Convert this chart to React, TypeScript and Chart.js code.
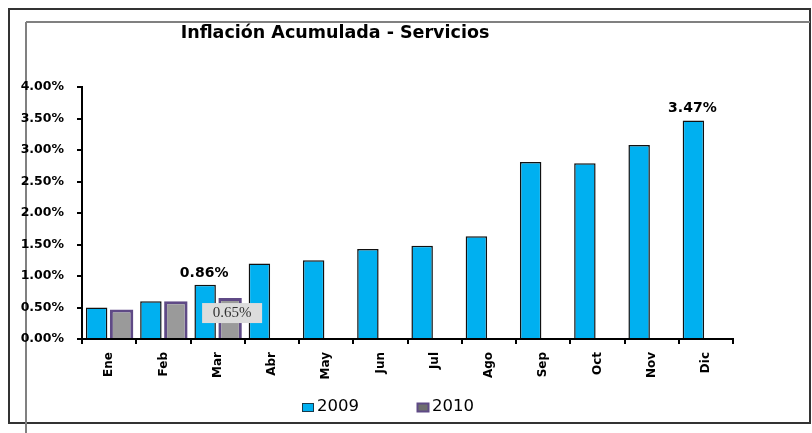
import React, { useEffect, useRef } from "react";
import { Chart, registerables } from "chart.js";

Chart.register(...registerables);

const categories = ["Ene", "Feb", "Mar", "Abr", "May", "Jun", "Jul", "Ago", "Sep", "Oct", "Nov", "Dic"];
const series2009 = [0.5, 0.6, 0.86, 1.2, 1.25, 1.43, 1.48, 1.63, 2.81, 2.79, 3.08, 3.47];
const series2010 = [0.47, 0.6, 0.65, null, null, null, null, null, null, null, null, null];
const seriesNames = ["2009", "2010"];
const titleText = "Inflación Acumulada - Servicios";
const yMin = 0;
const yMax = 4;
const yStep = 0.5;

const BLUE = "#00B0F0";
const PURPLE = "#5F4A86";
const GRAY = "#9a9a9a";

const decorPlugin = {
  id: "decor",
  beforeDraw(chart: any) {
    const ctx = chart.ctx;
    ctx.save();
    ctx.fillStyle = "#ffffff";
    ctx.fillRect(0, 0, chart.width, chart.height);
    ctx.strokeStyle = "#333333";
    ctx.lineWidth = 2;
    ctx.strokeRect(9, 9, 801, 414);
    ctx.strokeStyle = "#808080";
    ctx.beginPath();
    ctx.moveTo(26, 22);
    ctx.lineTo(810, 22);
    ctx.moveTo(26, 22);
    ctx.lineTo(26, 433);
    ctx.stroke();
    ctx.restore();
  },
  afterDraw(chart: any) {
    const ctx = chart.ctx;
    ctx.save();
    ctx.fillStyle = "#000";
    ctx.font = "bold 17.5px 'DejaVu Sans'";
    ctx.textAlign = "center";
    ctx.textBaseline = "middle";
    ctx.fillText(titleText, 335, 33);

    const meta0 = chart.getDatasetMeta(0);
    ctx.font = "bold 14px 'DejaVu Sans'";
    ctx.textBaseline = "alphabetic";
    [2, 11].forEach((i) => {
      const el = meta0.data[i];
      ctx.fillText(series2009[i].toFixed(2) + "%", el.x - 1, el.y - 8);
    });

    const meta1 = chart.getDatasetMeta(1);
    const el1 = meta1.data[2];
    const v = series2010[2] as number;
    const bx = el1.x - 28;
    const by = el1.y + 5;
    ctx.fillStyle = "#dcdcdc";
    ctx.fillRect(bx, by, 60, 20);
    ctx.fillStyle = "#333";
    ctx.font = "15px 'Liberation Serif'";
    ctx.textAlign = "center";
    ctx.textBaseline = "middle";
    ctx.fillText(v.toFixed(2) + "%", bx + 30, by + 10);

    ctx.font = "16.5px 'DejaVu Sans'";
    ctx.textAlign = "left";
    ctx.textBaseline = "middle";
    const items = [
      { x: 302, fill: BLUE, stroke: "#1a3a4a" },
      { x: 417, fill: "#6e6e6e", stroke: PURPLE },
    ];
    items.forEach((it, i) => {
      ctx.fillStyle = it.fill;
      ctx.fillRect(it.x, 403, 12, 9);
      ctx.strokeStyle = it.stroke;
      ctx.lineWidth = i === 1 ? 2 : 1;
      ctx.strokeRect(it.x + 0.5, 403.5, 11, 8);
      ctx.fillStyle = "#000";
      ctx.fillText(seriesNames[i], it.x + 15, 407);
    });
    ctx.restore();
  },
};

export default function App() {
  const canvasRef = useRef<HTMLCanvasElement | null>(null);

  useEffect(() => {
    const canvas = canvasRef.current;
    if (!canvas) return;
    const chart = new Chart(canvas, {
      type: "bar",
      data: {
        labels: categories,
        datasets: [
          {
            label: seriesNames[0],
            data: series2009,
            backgroundColor: BLUE,
            borderColor: "#111111",
            borderWidth: 1.5,
            categoryPercentage: 0.92,
            barPercentage: 0.86,
          },
          {
            label: seriesNames[1],
            data: series2010 as any,
            backgroundColor: GRAY,
            borderColor: PURPLE,
            borderWidth: 3,
            categoryPercentage: 0.92,
            barPercentage: 0.94,
          },
        ],
      },
      options: {
        responsive: false,
        animation: false,
        devicePixelRatio: 1,
        layout: { padding: { left: 0, top: 87, right: 79, bottom: 0 } },
        plugins: {
          legend: { display: false },
          title: { display: false },
          tooltip: { enabled: false },
        },
        scales: {
          x: {
            afterFit(scale: any) {
              scale.height = 94;
            },
            grid: {
              display: true,
              drawOnChartArea: false,
              drawTicks: true,
              tickLength: 5,
              color: "#000",
              lineWidth: 2,
              offset: true,
            },
            border: { display: true, color: "#000", width: 2 },
            ticks: {
              color: "#000",
              font: { family: "'DejaVu Sans'", size: 12, weight: "bold" },
              minRotation: 90,
              maxRotation: 90,
              padding: 8,
              autoSkip: false,
            },
          },
          y: {
            min: yMin,
            max: yMax,
            afterFit(scale: any) {
              scale.width = 82;
            },
            grid: {
              display: true,
              drawOnChartArea: false,
              drawTicks: true,
              tickLength: 5,
              color: "#000",
              lineWidth: 2,
            },
            border: { display: true, color: "#000", width: 2 },
            ticks: {
              stepSize: yStep,
              color: "#000",
              padding: 13,
              font: { family: "'DejaVu Sans'", size: 12.5, weight: "bold" },
              callback: (val: any) => Number(val).toFixed(2) + "%",
            },
          },
        },
      },
      plugins: [decorPlugin],
    });
    return () => chart.destroy();
  }, []);

  return (
    <div style={{ position: "absolute", left: 0, top: 0, width: 812, height: 433 }}>
      <canvas ref={canvasRef} width={812} height={433} style={{ display: "block" }} />
    </div>
  );
}
